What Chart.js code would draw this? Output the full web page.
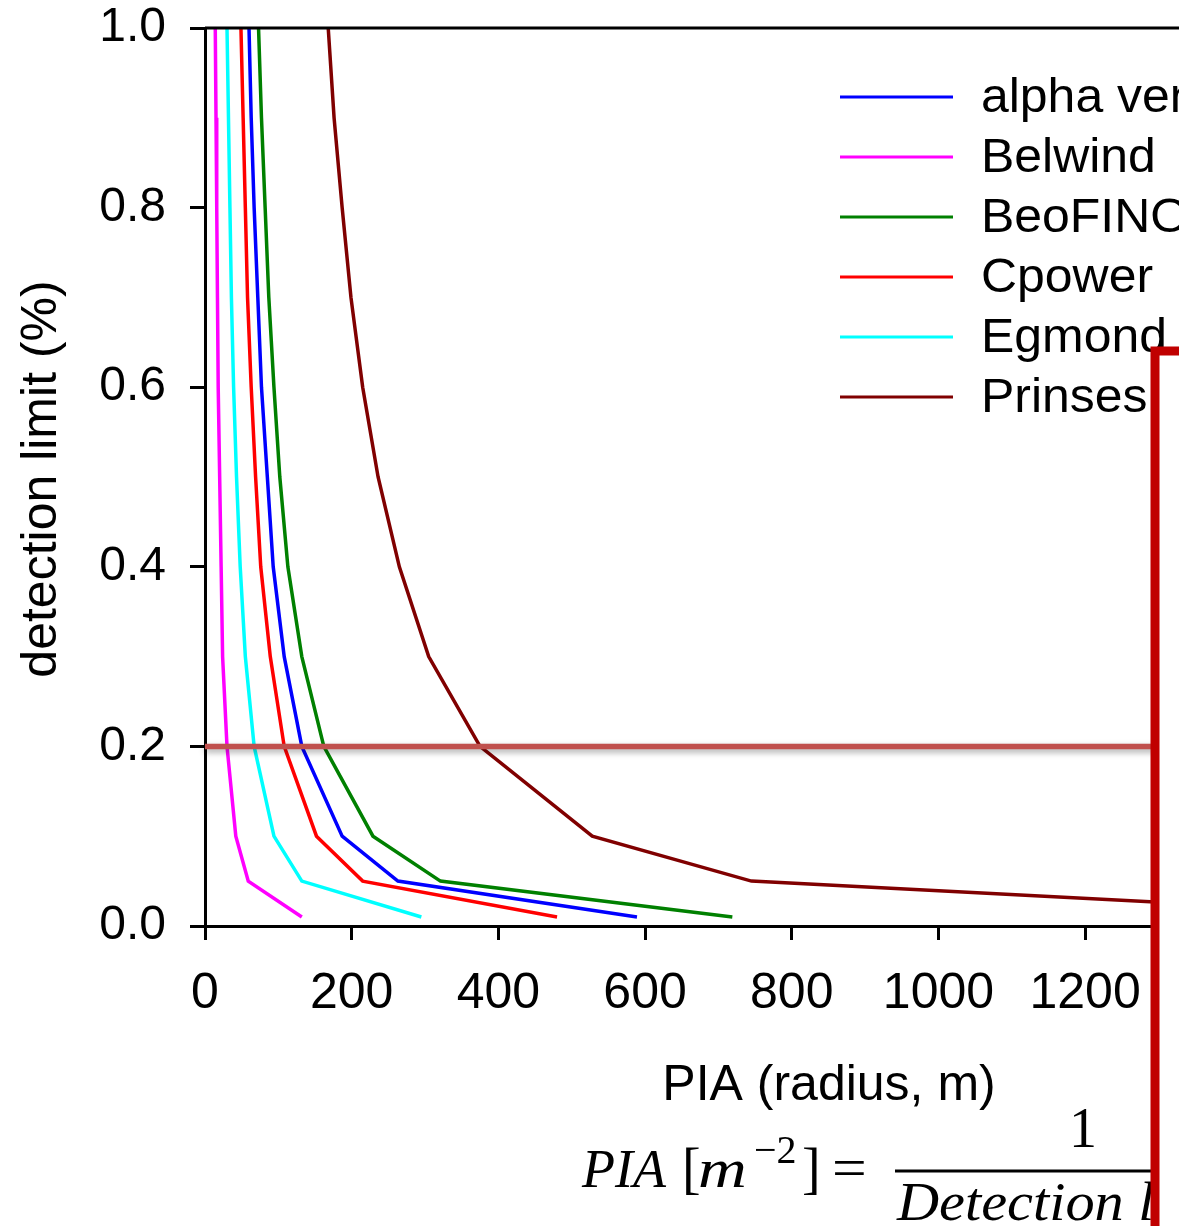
<!DOCTYPE html>
<html>
<head>
<meta charset="utf-8">
<script src="https://cdn.jsdelivr.net/npm/chart.js@4/dist/chart.umd.min.js"></script>
<style>
  html, body { margin: 0; padding: 0; background: #fff; overflow: hidden; }
</style>
</head>
<body>
<canvas id="piaChart" width="1179" height="1226"></canvas>
<script>
// detection limit (%) on the y axis, PIA radius (m) on the x axis
var detectionLimits = [1.0, 0.9, 0.8, 0.7, 0.6, 0.5, 0.4, 0.3, 0.2, 0.1, 0.05, 0.01];

var siteNames = ['alpha ventus', 'Belwind', 'BeoFINO', 'Cpower', 'Egmond aan Zee', 'Prinses Amalia'];
var alphaVentus = [60, 63, 67, 72, 77, 85, 93, 108, 132, 187, 263, 589];
var belwind     = [14, 15, 16, 17, 18, 20, 22, 24, 30, 42, 59, 132];
var beoFino     = [73, 77, 82, 87, 94, 102, 113, 132, 162, 229, 321, 719];
var cpower      = [49, 52, 55, 58, 63, 69, 76, 89, 108, 152, 215, 480];
var egmond      = [30, 32, 34, 36, 39, 43, 48, 55, 67, 94, 132, 295];
var prinses     = [168, 176, 187, 199, 215, 236, 265, 305, 375, 528, 745, 1690];

var siteColors = ['#0000ff', '#ff00ff', '#008000', '#ff0000', '#00ffff', '#800000'];

var xTicks = [0, 200, 400, 600, 800, 1000, 1200];
var yTicks = [0.0, 0.2, 0.4, 0.6, 0.8, 1.0];
var thresholdLimit = 0.2;

var seriesValues = [alphaVentus, belwind, beoFino, cpower, egmond, prinses];

function toPoints(radii) {
    return radii.map(function (r, i) { return { x: r, y: detectionLimits[i] }; });
}

var datasets = seriesValues.map(function (vals, i) {
    return {
        label: siteNames[i],
        data: toPoints(vals),
        borderColor: siteColors[i],
        backgroundColor: siteColors[i],
        borderWidth: 3.5,
        pointRadius: 0,
        tension: 0,
        showLine: true,
        fill: false
    };
});

var sans = "'Liberation Sans', Arial, sans-serif";
var serif = "'Liberation Serif', 'DejaVu Serif', serif";

var extras = {
    id: 'extras',
    afterDatasetsDraw: function (chart) {
        var ctx = chart.ctx, area = chart.chartArea;
        var y = chart.scales.y.getPixelForValue(thresholdLimit);
        ctx.save();
        ctx.shadowColor = 'rgba(0,0,0,0.35)';
        ctx.shadowBlur = 6;
        ctx.shadowOffsetY = 3;
        ctx.strokeStyle = '#c0504d';
        ctx.lineWidth = 5.5;
        ctx.beginPath();
        ctx.moveTo(area.left, y);
        ctx.lineTo(area.right, y);
        ctx.stroke();
        ctx.restore();
    },
    afterDraw: function (chart) {
        var ctx = chart.ctx, area = chart.chartArea;
        ctx.save();

        // top frame
        ctx.strokeStyle = '#000';
        ctx.lineWidth = 3;
        ctx.beginPath();
        ctx.moveTo(area.left, area.top);
        ctx.lineTo(area.right, area.top);
        ctx.stroke();

        // legend
        ctx.font = '48px ' + sans;
        ctx.textBaseline = 'middle';
        ctx.textAlign = 'left';
        siteNames.forEach(function (name, i) {
            var ly = 97 + i * 60;
            ctx.strokeStyle = siteColors[i];
            ctx.lineWidth = 3;
            ctx.beginPath();
            ctx.moveTo(840, ly);
            ctx.lineTo(953, ly);
            ctx.stroke();
            ctx.fillStyle = '#000';
            ctx.save();
            ctx.translate(981, ly + 2);
            ctx.scale(1.04, 1);
            ctx.fillText(name, 0, 0);
            ctx.restore();
        });

        // axis titles
        ctx.fillStyle = '#000';
        ctx.textAlign = 'center';
        ctx.font = '50px ' + sans;
        ctx.fillText('PIA (radius, m)', 829, 1086);
        ctx.save();
        ctx.translate(42, 479);
        ctx.rotate(-Math.PI / 2);
        ctx.fillText('detection limit (%)', 0, 0);
        ctx.restore();

        // formula
        ctx.textAlign = 'left';
        ctx.textBaseline = 'alphabetic';
        var base = 1187;
        ctx.font = 'italic 54px ' + serif;
        ctx.fillText('PIA', 582, base);
        ctx.font = '56px ' + serif;
        ctx.fillText('[', 682, base);
        ctx.save();
        ctx.translate(698, base);
        ctx.scale(1.25, 1);
        ctx.font = 'italic 54px ' + serif;
        ctx.fillText('m', 0, 0);
        ctx.restore();
        ctx.font = '40px ' + serif;
        ctx.fillText('\u22122', 754, base - 24);
        ctx.font = '56px ' + serif;
        ctx.fillText(']', 802, base);
        ctx.save();
        ctx.translate(832, base);
        ctx.scale(1.1, 1);
        ctx.fillText('=', 0, 0);
        ctx.restore();

        ctx.save();
        ctx.translate(897, 1220);
        ctx.scale(1.08, 1);
        ctx.font = 'italic 54px ' + serif;
        ctx.fillText('Detection limit', 0, 0);
        ctx.restore();
        ctx.lineWidth = 3;
        ctx.strokeStyle = '#000';
        ctx.beginPath();
        ctx.moveTo(895, 1171);
        ctx.lineTo(1290, 1171);
        ctx.stroke();
        ctx.font = '56px ' + serif;
        ctx.textAlign = 'center';
        ctx.fillText('1', 1083, 1147);

        // callout box over the right part
        ctx.fillStyle = '#fff';
        ctx.fillRect(1155, 351, 200, 1000);
        ctx.strokeStyle = '#c00000';
        ctx.lineWidth = 9;
        ctx.strokeRect(1155, 351, 200, 1000);
        ctx.restore();
    }
};

var ctx = document.getElementById('piaChart').getContext('2d');
var myChart = new Chart(ctx, {
    type: 'scatter',
    data: { datasets: datasets },
    options: {
        responsive: false,
        animation: false,
        devicePixelRatio: 1,
        layout: { padding: { top: 28, left: 0, right: 0, bottom: 0 } },
        plugins: { legend: { display: false }, tooltip: { enabled: false } },
        scales: {
            x: {
                type: 'linear',
                min: 0,
                max: 1328,
                afterBuildTicks: function (scale) {
                    scale.ticks = xTicks.map(function (v) { return { value: v }; });
                },
                afterFit: function (scale) {
                    scale.height = 300;
                    scale.paddingLeft = 0;
                    scale.paddingRight = 0;
                },
                border: { display: true, color: '#000', width: 3 },
                grid: { drawOnChartArea: false, drawTicks: true, tickLength: 14, color: '#000', lineWidth: 3 },
                ticks: {
                    color: '#000', font: { family: sans, size: 50 }, padding: 24, maxRotation: 0,
                    callback: function (v) { return String(v); }
                }
            },
            y: {
                type: 'linear',
                min: 0,
                max: 1,
                afterBuildTicks: function (scale) {
                    scale.ticks = yTicks.map(function (v) { return { value: v }; });
                },
                afterFit: function (scale) {
                    scale.width = 205;
                    scale.paddingTop = 0;
                    scale.paddingBottom = 0;
                },
                border: { display: true, color: '#000', width: 3 },
                grid: { drawOnChartArea: false, drawTicks: true, tickLength: 15, color: '#000', lineWidth: 3 },
                ticks: {
                    color: '#000', font: { family: sans, size: 48 }, padding: 24,
                    callback: function (v) { return Number(v).toFixed(1); }
                }
            }
        }
    },
    plugins: [extras]
});
</script>
</body>
</html>
